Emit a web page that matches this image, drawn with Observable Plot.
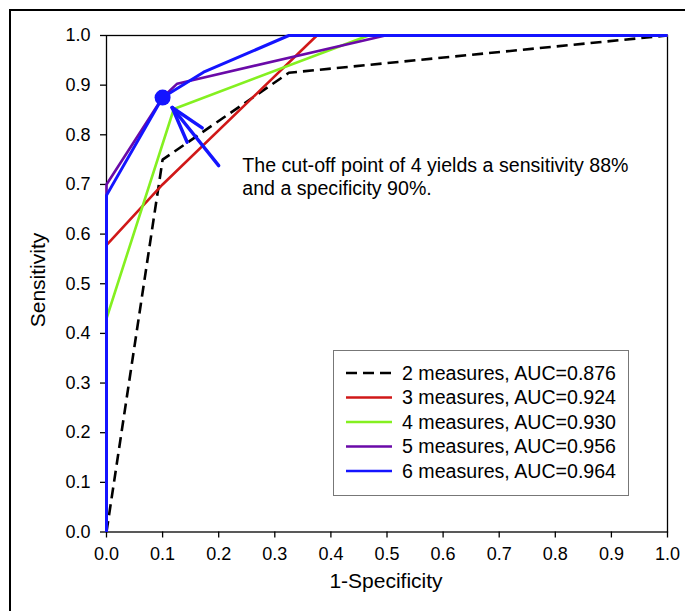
<!DOCTYPE html>
<html><head><meta charset="utf-8">
<script src="https://cdn.jsdelivr.net/npm/d3@7"></script>
<script src="https://cdn.jsdelivr.net/npm/@observablehq/plot@0.6"></script>
<style>
html,body{margin:0;padding:0;background:#fff}
body{overflow:hidden;width:685px;height:611px;position:relative;font-family:"Liberation Sans",Arial,sans-serif}
#frame{position:absolute;left:9px;top:9px;width:800px;height:800px;border:2px solid #000;box-sizing:border-box}
#chart{position:absolute;left:0;top:0}
#chart svg{overflow:visible}
#legend{position:absolute;left:333px;top:350px;width:296px;height:146px;border:1px solid #777;box-sizing:border-box;background:#fff}
.title{position:absolute;font-size:21px;color:#000;white-space:nowrap}
#xtitle{left:386px;top:581px;transform:translate(-50%,-50%)}
#ytitle{left:38px;top:280px;transform:translate(-50%,-50%) rotate(-90deg)}
</style></head><body>
<div id="frame"></div>
<div id="chart"></div>
<div id="legend"></div>
<div class="title" id="xtitle">1-Specificity</div>
<div class="title" id="ytitle">Sensitivity</div>
<script>
// Series labels and colours
const seriesNames = ["2 measures, AUC=0.876","3 measures, AUC=0.924","4 measures, AUC=0.930","5 measures, AUC=0.956","6 measures, AUC=0.964"];
const seriesColors = ["#000000","#d01818","#84f020","#6a0aa8","#1414ff"];
const seriesDash = ["11,6", null, null, null, null];

// ROC points (1-specificity, sensitivity)
const fpr2 = [0, 0.1, 0.325, 1];
const sens2 = [0, 0.75, 0.925, 1];
const fpr3 = [0, 0, 0.1, 0.375, 1];
const sens3 = [0, 0.578, 0.70, 1, 1];
const fpr4 = [0, 0, 0.12, 0.467, 1];
const sens4 = [0, 0.43, 0.852, 1, 1];
const fpr5 = [0, 0, 0.1, 0.126, 0.497, 1];
const sens5 = [0, 0.70, 0.875, 0.903, 1, 1];
const fpr6 = [0, 0, 0.1, 0.173, 0.325, 1];
const sens6 = [0, 0.678, 0.875, 0.926, 1, 1];

// Tick values
const xTicks = [0,0.1,0.2,0.3,0.4,0.5,0.6,0.7,0.8,0.9,1.0];
const yTicks = [0,0.1,0.2,0.3,0.4,0.5,0.6,0.7,0.8,0.9,1.0];

// Annotation: cut-off point, arrow and text
const cutX = [0.1], cutY = [0.875];
const arrowX = [0.200, 0.117, 0.1706, 0.117, 0.1438];
const arrowY = [0.738, 0.855, 0.814, 0.855, 0.785];
const noteText = ["The cut-off point of 4 yields a sensitivity 88%\nand a specificity 90%."];
const noteX = [0.242], noteY = [0.716];

const allFpr = [fpr2,fpr3,fpr4,fpr5,fpr6];
const allSens = [sens2,sens3,sens4,sens5,sens6];

const marks = [];
allFpr.forEach((xs, k) => {
  const data = xs.map((x, i) => ({x, y: allSens[k][i]}));
  marks.push(Plot.line(data, {x:"x", y:"y", stroke: seriesColors[k], strokeWidth: k===4?3:2.6,
    strokeDasharray: seriesDash[k] || undefined, strokeLinejoin:"miter", strokeLinecap:"butt"}));
});
// arrow: shaft then two wings
const segs = [[0,1],[1,2],[3,4]].map(([a,b]) => ({x1: arrowX[a], y1: arrowY[a], x2: arrowX[b], y2: arrowY[b]}));
marks.push(Plot.link(segs, {x1:"x1", y1:"y1", x2:"x2", y2:"y2", stroke: seriesColors[4], strokeWidth: 3.4, strokeLinecap:"round"}));
marks.push(Plot.dot(cutX.map((x,i)=>({x, y: cutY[i]})), {x:"x", y:"y", r: 8, fill: seriesColors[4], stroke: "none"}));
marks.push(Plot.text(noteText.map((t,i)=>({t, x: noteX[i], y: noteY[i]})), {x:"x", y:"y", text:"t", textAnchor:"start", lineAnchor:"middle", lineHeight: 1.14, fontSize: 19.6, fill:"#000"}));

const chart = Plot.plot({
  width: 685, height: 611,
  marginLeft: 106, marginRight: 18, marginTop: 35, marginBottom: 79.5,
  style: {fontFamily: '"Liberation Sans", Arial, sans-serif', fontSize: "18px", background: "transparent", color: "#000"},
  x: {domain: [0,1]},
  y: {domain: [0,1]},
  marks: [
    Plot.frame({stroke: "#000", strokeWidth: 1.3}),
    Plot.axisX({ticks: xTicks, tickFormat: d => d.toFixed(1), tickSize: 6, tickPadding: 9, label: null, fontSize: 18, strokeWidth: 1.3}),
    Plot.axisY({ticks: yTicks, tickFormat: d => d.toFixed(1), tickSize: 6, tickPadding: 10, label: null, fontSize: 18, strokeWidth: 1.3}),
    ...marks
  ]
});
document.getElementById("chart").appendChild(chart);

// Legend
const lg = d3.select("#legend").append("svg").attr("width", 294).attr("height", 144)
  .style("font-family", '"Liberation Sans", Arial, sans-serif');
seriesNames.forEach((name, k) => {
  const cy = 22 + k * 24.5;
  lg.append("line").attr("x1", 12).attr("x2", 58).attr("y1", cy).attr("y2", cy)
    .attr("stroke", seriesColors[k]).attr("stroke-width", 2.6)
    .attr("stroke-dasharray", seriesDash[k] || null);
  lg.append("text").attr("x", 68).attr("y", cy).attr("dy", "0.35em")
    .attr("font-size", 19.6).attr("fill", "#000").text(name);
});
</script>
</body></html>
